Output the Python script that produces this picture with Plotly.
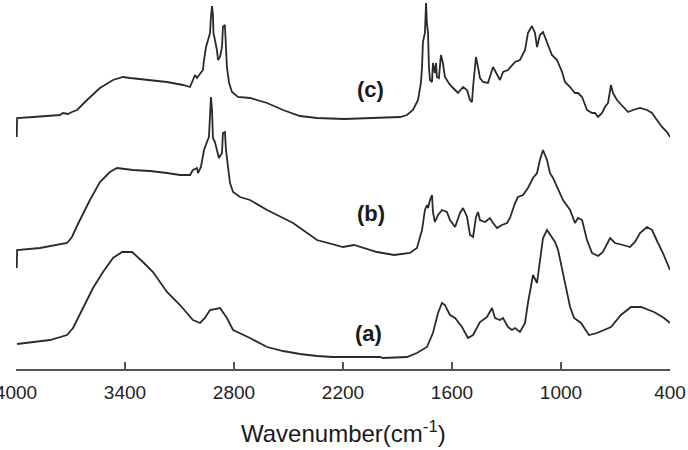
import plotly.graph_objects as go

# ---- data (wavenumber in cm^-1, offset absorbance in arbitrary units) ----
wn_a = [3994, 3906, 3813, 3719, 3686, 3631, 3576, 3521, 3466, 3416, 3361, 3301, 3246, 3169, 3097, 3026,
        2987, 2960, 2932, 2877, 2839, 2805, 2712, 2618, 2530, 2437, 2343, 2255, 1996, 1980, 1848, 1793,
        1738, 1705, 1677, 1655, 1639, 1611, 1583, 1545, 1512, 1484, 1446, 1407, 1380, 1363, 1336, 1319,
        1292, 1270, 1253, 1226, 1198, 1182, 1160, 1154, 1132, 1116, 1099, 1077, 1050, 1033, 1016, 989,
        967, 950, 928, 890, 846, 802, 725, 670, 615, 560, 488, 433, 400]
ab_a = [25, 27, 29, 34, 41, 61, 81, 97, 111, 117, 117, 107, 97, 77, 64, 49,
        46, 51, 59, 61, 51, 39, 31, 22, 18, 15, 13, 12, 12, 11, 12, 16,
        22, 36, 56, 66, 64, 54, 51, 42, 31, 34, 47, 52, 61, 51, 49, 51,
        42, 39, 41, 37, 46, 66, 91, 94, 86, 106, 131, 139, 131, 127, 119, 97,
        77, 62, 51, 46, 34, 36, 42, 54, 62, 62, 57, 51, 46]

wn_b = [3996, 3994, 3868, 3719, 3692, 3659, 3593, 3538, 3483, 3444, 3356, 3262, 3169, 3097, 3042, 3026,
        3004, 2998, 2982, 2965, 2949, 2938, 2927, 2921, 2916, 2905, 2894, 2883, 2866, 2861, 2850, 2844,
        2833, 2822, 2805, 2767, 2712, 2618, 2475, 2343, 2200, 2139, 2013, 1919, 1831, 1793, 1765, 1749,
        1738, 1732, 1721, 1710, 1705, 1694, 1677, 1655, 1628, 1611, 1583, 1556, 1539, 1517, 1501, 1484,
        1468, 1457, 1446, 1418, 1391, 1374, 1352, 1325, 1297, 1281, 1253, 1237, 1209, 1182, 1154, 1132,
        1116, 1099, 1077, 1061, 1044, 1016, 989, 950, 923, 906, 884, 857, 829, 796, 769, 730, 703, 659,
        620, 593, 565, 527, 499, 466, 439, 400]
ab_b = [101, 119, 121, 126, 132, 145, 169, 187, 197, 201, 199, 198, 196, 194, 194, 199,
        201, 196, 202, 219, 227, 232, 272, 259, 231, 227, 219, 211, 216, 236, 237, 219,
        202, 186, 177, 172, 169, 159, 146, 129, 122, 124, 117, 114, 116, 121, 139, 159,
        164, 161, 169, 174, 157, 147, 154, 159, 157, 149, 142, 156, 161, 152, 134, 132,
        152, 157, 149, 147, 151, 146, 141, 144, 146, 151, 166, 172, 174, 181, 191, 196,
        209, 219, 209, 196, 191, 179, 169, 159, 146, 151, 149, 129, 116, 113, 117, 131, 126, 124,
        122, 127, 136, 142, 139, 126, 116, 99]

wn_c = [3996, 3994, 3906, 3851, 3758, 3741, 3714, 3692, 3664, 3609, 3538, 3466, 3411, 3372, 3262, 3169,
        3081, 3042, 3026, 3015, 3004, 2993, 2971, 2965, 2954, 2943, 2932, 2927, 2921, 2916, 2913, 2905,
        2894, 2888, 2877, 2866, 2861, 2850, 2844, 2839, 2827, 2811, 2778, 2712, 2618, 2530, 2437, 2343,
        2194, 1996, 1886, 1848, 1815, 1787, 1771, 1765, 1760, 1749, 1743, 1738, 1732, 1727, 1721, 1710,
        1705, 1694, 1688, 1683, 1672, 1661, 1650, 1639, 1611, 1583, 1567, 1539, 1517, 1501, 1490, 1484,
        1468, 1457, 1446, 1429, 1402, 1374, 1352, 1336, 1319, 1292, 1253, 1226, 1198, 1182, 1160, 1143,
        1132, 1116, 1099, 1077, 1050, 1022, 994, 978, 950, 923, 906, 884, 857, 829, 813, 796,
        774, 758, 741, 725, 714, 692, 659, 631, 604, 565, 527, 499, 472, 444, 416, 400]
ab_c = [232, 251, 252, 253, 254, 256, 255, 257, 259, 269, 281, 289, 292, 291, 289, 287,
        284, 282, 289, 294, 291, 294, 299, 309, 322, 329, 336, 352, 363, 354, 336, 329,
        319, 309, 312, 322, 342, 344, 327, 302, 286, 277, 272, 271, 266, 259, 253, 251,
        250, 251, 252, 254, 259, 269, 286, 302, 327, 336, 366, 346, 336, 302, 289, 287,
        306, 296, 306, 292, 291, 314, 306, 292, 284, 279, 276, 282, 279, 269, 267, 282,
        312, 302, 291, 287, 286, 302, 294, 289, 297, 299, 307, 309, 319, 336, 343, 336,
        322, 334, 337, 327, 314, 309, 297, 287, 282, 276, 276, 272, 259, 256, 256, 252,
        256, 262, 266, 284, 276, 269, 262, 257, 259, 261, 259, 256, 249, 242, 237, 232]

tick_vals = [4000, 3400, 2800, 2200, 1600, 1000, 400]
tick_text = ["4000", "3400", "2800", "2200", "1600", "1000", "400"]
series_labels = ["(a)", "(b)", "(c)"]
label_x = [2057, 2046, 2046]
label_y = [36, 156, 280]

line_color = "#2a2a2a"
font_family = "Arial, Liberation Sans, sans-serif"
fig = go.Figure()
for wn, ab in [(wn_a, ab_a), (wn_b, ab_b), (wn_c, ab_c)]:
    fig.add_trace(go.Scatter(x=wn, y=ab, mode="lines",
                             line=dict(color=line_color, width=1.8, shape="linear"),
                             showlegend=False, hoverinfo="skip"))

for t, x, y in zip(series_labels, label_x, label_y):
    fig.add_annotation(x=x, y=y, text="<b>" + t + "</b>", showarrow=False,
                       font=dict(family=font_family, size=22, color="#1a1a1a"),
                       xanchor="center", yanchor="middle")

fig.add_annotation(xref="paper", yref="paper", x=0.5, y=-0.17,
                   text="Wavenumber(cm<sup>-1</sup>)", showarrow=False,
                   font=dict(family=font_family, size=24, color="#1a1a1a"),
                   xanchor="center", yanchor="middle")

fig.update_layout(
    width=688, height=450,
    margin=dict(l=16, r=18, t=0, b=81, autoexpand=False),
    paper_bgcolor="white", plot_bgcolor="white",
    xaxis=dict(range=[4000, 400], tickvals=tick_vals, ticktext=tick_text,
               ticks="inside", ticklen=7, tickwidth=1.5, tickcolor="#555555",
               showline=True, linecolor="#555555", linewidth=1.5,
               showgrid=False, zeroline=False, automargin=False,
               ticklabeloverflow="allow", ticklabelstandoff=5,
               tickfont=dict(family=font_family, size=19, color="#222222")),
    yaxis=dict(range=[0, 369], visible=False, showgrid=False, zeroline=False),
)

fig.write_html("out.html")
